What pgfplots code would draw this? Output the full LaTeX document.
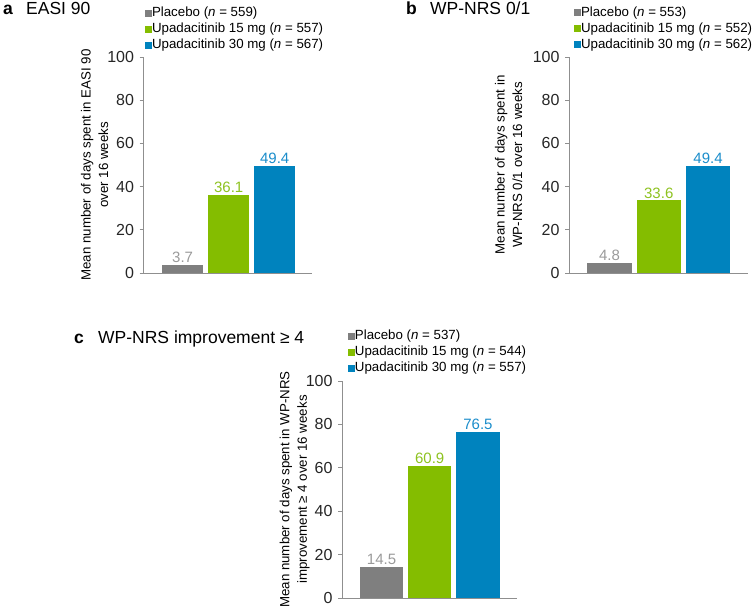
\documentclass[border=0pt]{standalone}
\usepackage{pgfplots}
\pgfplotsset{compat=1.18}
\usepackage{fontspec}
\setmainfont{Liberation Sans}
\definecolor{cgray}{HTML}{7F7F7F}
\definecolor{cgreen}{HTML}{84BD00}
\definecolor{cblue}{HTML}{0083BE}
\definecolor{lgray}{HTML}{9A9A9A}
\definecolor{lgreen}{HTML}{8DC21F}
\definecolor{lblue}{HTML}{1B8DCB}
\definecolor{axgray}{HTML}{8F8F8F}
\newcommand{\tickfont}{\fontsize{16pt}{18pt}\selectfont}
\pgfplotsset{
 panel/.style={
  scale only axis,
  ymin=0, ymax=100,
  xmin=-0.82, xmax=2.81,
  axis lines=left,
  axis line style={axgray, line width=0.8pt, -},
  ytick={0,20,...,100},
  xtick=\empty,
  tick align=outside,
  major tick length=4pt,
  y tick style={axgray, line width=0.8pt},
  yticklabel={\tickfont\pgfmathprintnumber[assume math mode=true]{\tick}},
  tick label style={font=\tickfont, text=black!85},
  yticklabel style={xshift=-2pt},
  /pgf/number format/assume math mode=true,
  ybar, bar width=0.9, bar shift=0pt,
  ylabel style={font=\fontsize{13.3pt}{17.5pt}\selectfont, align=center, anchor=center},
  legend style={draw=none, fill=none, font=\fontsize{13.3pt}{16pt}\selectfont,
    anchor=north west, inner sep=0pt, outer sep=0pt, row sep=3pt,
    nodes={inner sep=0pt, text height=10pt, text depth=3pt},
    /tikz/every even column/.style={column sep=3pt}},
  legend cell align=left,
  legend image code/.code={\fill[##1] (0pt,-3.5pt) rectangle (7pt,3.5pt);},
  nodes near coords={\pgfmathprintnumber[fixed,fixed zerofill,precision=1,assume math mode=true]{\pgfplotspointmeta}},
  nodes near coords style={font=\fontsize{15pt}{18pt}\selectfont, inner sep=2pt},
  enlargelimits=false,
 },
 pg/.style={fill=cgray, draw=none, every node near coord/.append style={text=lgray}},
 pgr/.style={fill=cgreen, draw=none, every node near coord/.append style={text=lgreen}},
 pb/.style={fill=cblue, draw=none, every node near coord/.append style={text=lblue}},
}
\begin{document}
\begin{tikzpicture}[x=1pt,y=1pt]
\path[use as bounding box] (0,0) rectangle (755,608);
% ---------- panel a
\node[anchor=base west, inner sep=0pt, font=\fontsize{17.5pt}{20pt}\selectfont\bfseries] at (3,593.5) {a};
\node[anchor=base west, inner sep=0pt, font=\fontsize{17.5pt}{20pt}\selectfont] at (26,593.5) {EASI 90};
\begin{axis}[panel, at={(143.5pt,335pt)}, anchor=south west, width=168.5pt, height=216pt,
  xmin=-0.85,
  ylabel={Mean number of days spent in EASI 90\\over 16 weeks},
  ylabel style={at={(axis description cs:-0.29,0.5)}},
  legend style={at={(axis description cs:0.009,1.233)}}]
\addplot[pg] coordinates {(0,3.7)};
\addplot[pgr] coordinates {(1,36.1)};
\addplot[pb] coordinates {(2,49.4)};
\legend{Placebo (\textit{n} = 559), Upadacitinib 15 mg (\textit{n} = 557), Upadacitinib 30 mg (\textit{n} = 567)}
\end{axis}
% ---------- panel b
\node[anchor=base west, inner sep=0pt, font=\fontsize{17.5pt}{20pt}\selectfont\bfseries] at (406,593.5) {b};
\node[anchor=base west, inner sep=0pt, font=\fontsize{17.5pt}{20pt}\selectfont] at (430,593.5) {WP-NRS 0/1};
\begin{axis}[panel, at={(569pt,335pt)}, anchor=south west, width=179pt, height=216pt,
  ylabel={Mean number of days spent in\\WP-NRS 0/1 over 16 weeks},
  ylabel style={at={(axis description cs:-0.338,0.5)}},
  legend style={at={(axis description cs:0.028,1.236)}}]
\addplot[pg] coordinates {(0,4.8)};
\addplot[pgr] coordinates {(1,33.6)};
\addplot[pb] coordinates {(2,49.4)};
\legend{Placebo (\textit{n} = 553), Upadacitinib 15 mg (\textit{n} = 552), Upadacitinib 30 mg (\textit{n} = 562)}
\end{axis}
% ---------- panel c
\node[anchor=base west, inner sep=0pt, font=\fontsize{17.5pt}{20pt}\selectfont\bfseries] at (74,264) {c};
\node[anchor=base west, inner sep=0pt, font=\fontsize{17.5pt}{20pt}\selectfont] at (98,264) {WP-NRS improvement ≥ 4};
\begin{axis}[panel, at={(342pt,10pt)}, anchor=south west, width=175pt, height=217pt,
  ylabel={Mean number of days spent in WP-NRS\\improvement ≥ 4 over 16 weeks},
  ylabel style={at={(axis description cs:-0.271,0.5)}},
  legend style={at={(axis description cs:0.034,1.236)}}]
\addplot[pg] coordinates {(0,14.5)};
\addplot[pgr] coordinates {(1,60.9)};
\addplot[pb] coordinates {(2,76.5)};
\legend{Placebo (\textit{n} = 537), Upadacitinib 15 mg (\textit{n} = 544), Upadacitinib 30 mg (\textit{n} = 557)}
\end{axis}
\end{tikzpicture}
\end{document}
